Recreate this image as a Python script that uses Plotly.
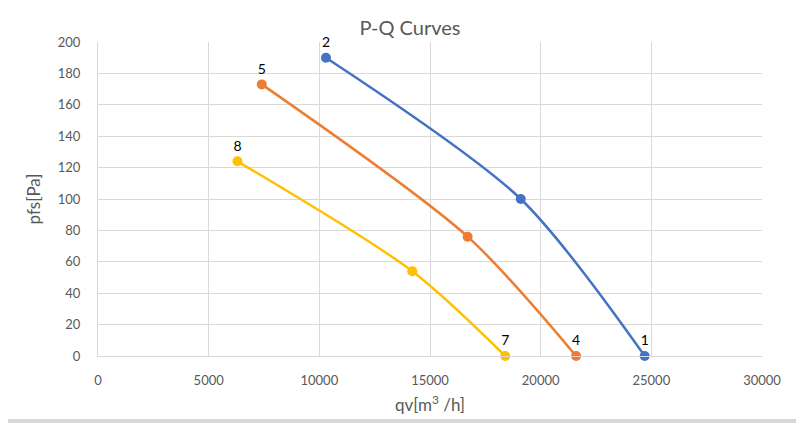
import plotly.graph_objects as go

# Data
blue_q = [10300, 19100, 24700]
blue_p = [190, 100, 0]
blue_labels = ["2", "", "1"]

orange_q = [7400, 16700, 21600]
orange_p = [173, 76, 0]
orange_labels = ["5", "", "4"]

yellow_q = [6300, 14200, 18400]
yellow_p = [124, 54, 0]
yellow_labels = ["8", "", "7"]

x_ticks = [0, 5000, 10000, 15000, 20000, 25000, 30000]
y_ticks = [0, 20, 40, 60, 80, 100, 120, 140, 160, 180, 200]

series = [
    (blue_q, blue_p, blue_labels, "#4472C4"),
    (orange_q, orange_p, orange_labels, "#ED7D31"),
    (yellow_q, yellow_p, yellow_labels, "#FFC000"),
]

fig = go.Figure()
for q, p, labels, color in series:
    fig.add_trace(go.Scatter(
        x=q, y=p, mode="lines+markers",
        line=dict(color=color, width=2.5, shape="spline", smoothing=0.8),
        marker=dict(color=color, size=10),
        showlegend=False, cliponaxis=False,
    ))
    keep = [i for i, t in enumerate(labels) if t]
    fig.add_trace(go.Scatter(
        x=[q[i] for i in keep], y=[p[i] for i in keep], mode="markers+text",
        text=[labels[i] for i in keep], textposition="top center",
        marker=dict(size=10, opacity=0),
        textfont=dict(family="Lato, Open Sans, sans-serif", size=14, color="#000000"),
        showlegend=False, cliponaxis=False, hoverinfo="skip",
    ))

# thin grey band along the bottom edge of the picture
fig.add_shape(type="rect", xref="paper", yref="paper",
              x0=-90 / 664, x1=714 / 664, y0=-67 / 314, y1=-63 / 314,
              fillcolor="#D9D9D9", line=dict(width=0), layer="below")

fig.update_layout(
    width=804, height=423,
    margin=dict(l=90, r=50, t=34, b=75),
    paper_bgcolor="white", plot_bgcolor="white",
    font=dict(family="Lato, Open Sans, sans-serif", color="#595959"),
    title=dict(text="P-Q Curves", x=0.5, xanchor="center", y=0.952, yanchor="middle",
               font=dict(size=20, color="#595959")),
    xaxis=dict(range=[0, 30000], tickvals=x_ticks, ticktext=[str(v) for v in x_ticks],
               showgrid=True, gridcolor="#D9D9D9", gridwidth=1,
               zeroline=False, showline=True, linecolor="#D9D9D9",
               tickfont=dict(size=13, color="#595959"), ticklabelstandoff=12,
               title=dict(text="qv[m<sup>3</sup> /h]", font=dict(size=17, color="#595959"), standoff=12)),
    yaxis=dict(range=[0, 200], tickvals=y_ticks, ticktext=[str(v) for v in y_ticks],
               showgrid=True, gridcolor="#D9D9D9", gridwidth=1,
               zeroline=False, showline=True, linecolor="#D9D9D9",
               tickfont=dict(size=13, color="#595959"), ticklabelstandoff=14,
               title=dict(text="pfs[Pa]", font=dict(size=17, color="#595959"), standoff=12)),
)

fig.write_html("out.html")
